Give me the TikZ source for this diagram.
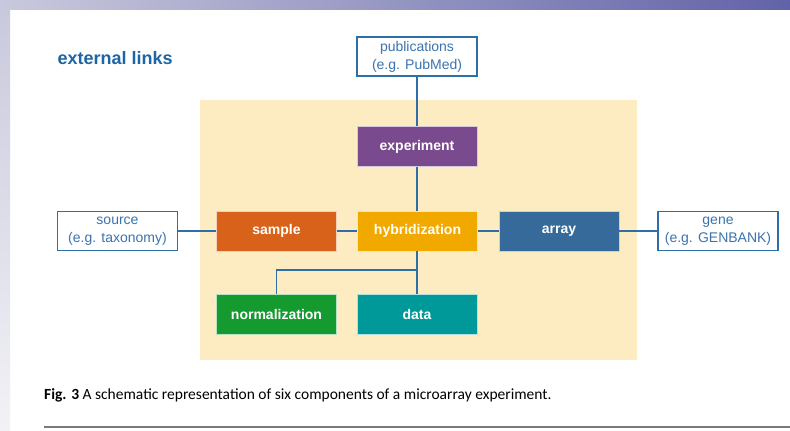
\documentclass[tikz,border=0pt]{standalone}
\usepackage{fontspec}
\setmainfont{Liberation Sans}
\newfontfamily\capfont{Carlito}
\definecolor{bandL}{HTML}{C9C9DD}
\definecolor{bandR}{HTML}{6262A8}
\definecolor{bandB}{HTML}{F2F2F6}
\definecolor{panel}{HTML}{FDEBC1}
\definecolor{linkblue}{HTML}{2E6FA8}
\definecolor{linktext}{HTML}{3A74AE}
\definecolor{titleblue}{HTML}{1D65A6}
\definecolor{cExp}{HTML}{7A4A8E}
\definecolor{cSample}{HTML}{D9621B}
\definecolor{cHyb}{HTML}{F1A900}
\definecolor{cArray}{HTML}{356A9A}
\definecolor{cNorm}{HTML}{149A2F}
\definecolor{cData}{HTML}{00999A}
\definecolor{rule}{HTML}{7A7A7A}
\begin{document}
\begin{tikzpicture}[x=1pt,y=-1pt,
  comp/.style={minimum width=120pt,minimum height=40pt,inner sep=0pt,
    text=white,font=\fontsize{14}{16}\selectfont\bfseries,
    draw=white!70!#1,line width=0.6pt,fill=#1},
  extlink/.style={minimum width=120pt,minimum height=39pt,inner sep=0pt,
    draw=linkblue,line width=1.3pt,fill=white,text=linktext,align=center,
    font=\fontsize{14}{18}\selectfont},
  wire/.style={draw=linkblue,line width=1.1pt}]
\useasboundingbox (0,0) rectangle (790,431);
% page frame: shaded bands on top and left
\fill[white] (0,0) rectangle (790,431);
\shade[left color=bandL,right color=bandR] (0,0) rectangle (790,9);
\shade[top color=bandL,bottom color=bandB] (0,9) rectangle (10,431);
% panel behind the core components
\fill[panel] (200,100) rectangle (637,360);
\node[font=\fontsize{18}{20}\selectfont\bfseries,text=titleblue,anchor=west] (title) at (54,58) {external links};
% external resources
\node[extlink] (pub) at (417,56.5) {publications\\(e.g. PubMed)};
\node[extlink] (src) at (117.5,231) {source\\(e.g. taxonomy)};
\node[extlink] (gene) at (718,231) {gene\\(e.g. GENBANK)};
% core components
\node[comp=cExp] (exp) at (417,146.5) {experiment};
\node[comp=cSample] (sample) at (276.5,231) {sample};
\node[comp=cHyb] (hyb) at (417.5,231) {hybridization};
\node[comp=cArray] (array) at (559,231) {array};
\node[comp=cNorm] (norm) at (276.5,314.5) {normalization};
\node[comp=cData] (data) at (417,314.5) {data};
\coordinate (split) at (417,270);
% connectors
\draw[wire] (pub.south) -- (exp.north);
\draw[wire] (exp.south) -- (hyb.north -| exp.south);
\draw[wire] (src.east) -- (sample.west);
\draw[wire] (sample.east) -- (hyb.west);
\draw[wire] (hyb.east) -- (array.west);
\draw[wire] (array.east) -- (gene.west);
\draw[wire] (hyb.south -| split) -- (data.north -| split);
\draw[wire] (split) -| (norm.north);
% caption and rule
\node[anchor=west,inner sep=0pt,font=\capfont\fontsize{15.5}{18}\selectfont] (cap) at (44,395)
  {\textbf{Fig. 3} A schematic representation of six components of a microarray experiment.};
\draw[rule,line width=2pt] (44,427) -- (790,427);
\end{tikzpicture}
\end{document}
